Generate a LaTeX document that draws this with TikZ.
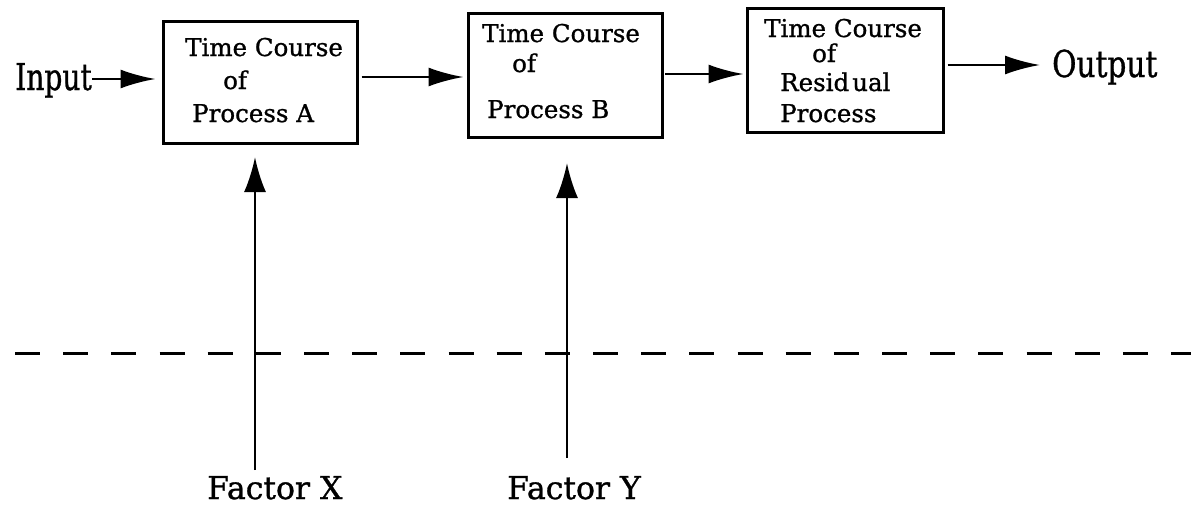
\documentclass[tikz,border=0pt]{standalone}
\usepackage{fontspec}
\setmainfont{DejaVu Serif}[FakeBold=1]
\usetikzlibrary{arrows.meta}
\begin{document}
\begin{tikzpicture}[x=1pt,y=-1pt,
  box/.style={draw,line width=3pt,inner sep=0pt},
  lbl/.style={anchor=base west,inner sep=0pt,font=\fontsize{24.5}{24.5}\selectfont},
  big/.style={anchor=base west,inner sep=0pt,font=\fontsize{37}{37}\selectfont},
  fac/.style={anchor=base west,inner sep=0pt,font=\fontsize{31.5}{31.5}\selectfont},
  arr/.style={line width=2.5pt,-{Latex[length=35pt,width=19pt]}},
  varr/.style={line width=2.5pt,-{Latex[length=35pt,width=22pt]}},
  dashline/.style={line width=3pt,dash pattern=on 25pt off 23.17pt}]
\useasboundingbox (0,0) rectangle (1191,506);
\fill[white] (0,0) rectangle (1191,506);
% boxes
\node[box,minimum width=194pt,minimum height=122pt] (boxA) at (260,82) {};
\node[box,minimum width=194pt,minimum height=124pt] (boxB) at (565,75) {};
\node[box,minimum width=196pt,minimum height=124pt] (boxR) at (845,70) {};
% box texts
\node[lbl] (a1) at (185,56) {Time Course};
\node[lbl] (a2) at (223,89) {of};
\node[lbl] (a3) at (192,122) {Process A};
\node[lbl] (b1) at (482,42) {Time Course};
\node[lbl] (b2) at (512,72) {of};
\node[lbl] (b3) at (487,118) {Process B};
\node[lbl] (r1) at (764,37) {Time Course};
\node[lbl] (r2) at (812,62) {of};
\node[lbl] (r3) at (780,91) {Resid\kern3pt ual};
\node[lbl] (r4) at (780,122) {Process};
% input / output
\node[big] (inp) at (15,90) {\scalebox{0.76}[1]{Input}};
\node[big] (out) at (1052,77) {\scalebox{0.8}[1]{Output}};
% factors
\node[fac] (fx) at (207,499) {Factor X};
\node[fac] (fy) at (507,499) {Factor Y};
% helper coordinates
\coordinate (yin) at (0,79);
\coordinate (yab) at (0,77);
\coordinate (ybr) at (0,74);
\coordinate (yout) at (0,65);
\coordinate (xbot) at (255,470);
\coordinate (xtop) at (255,157);
\coordinate (ybot) at (567,458);
\coordinate (ytop) at (567,163);
\coordinate (dl) at (15,353);
\coordinate (dr) at (1191,353);
% connectors
\draw[arr] (inp.east |- yin) -- ([xshift=-6pt]boxA.west |- yin);
\draw[arr] ([xshift=3pt]boxA.east |- yab) -- ([xshift=-3pt]boxB.west |- yab);
\draw[arr] ([xshift=1.5pt]boxB.east |- ybr) -- ([xshift=-2pt]boxR.west |- ybr);
\draw[arr] ([xshift=3pt]boxR.east |- yout) -- ([xshift=-12pt]out.west |- yout);
\draw[varr] (xbot) -- (xtop);
\draw[varr] (ybot) -- (ytop);
\draw[dashline] (dl) -- (dr);
\end{tikzpicture}
\end{document}
